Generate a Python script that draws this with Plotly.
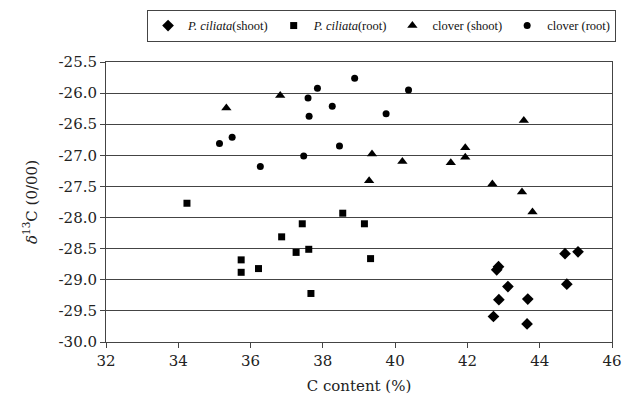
import plotly.graph_objects as go

# P. ciliata (shoot)
pc_shoot_x = [44.70, 45.06, 42.86, 42.81, 43.12, 44.75, 42.87, 43.67, 42.72, 43.65]
pc_shoot_y = [-28.58, -28.55, -28.79, -28.84, -29.11, -29.07, -29.32, -29.31, -29.59, -29.71]

# P. ciliata (root)
pc_root_x = [34.24, 38.55, 37.43, 36.86, 37.26, 37.61, 35.74, 35.74, 36.22, 37.67, 39.15, 39.32]
pc_root_y = [-27.77, -27.93, -28.10, -28.31, -28.56, -28.51, -28.68, -28.88, -28.82, -29.22, -28.10, -28.66]

# clover (shoot)
cl_shoot_x = [35.33, 36.82, 43.56, 39.36, 40.20, 41.54, 41.94, 41.94, 39.28, 42.69, 43.51, 43.80]
cl_shoot_y = [-26.24, -26.04, -26.44, -26.98, -27.10, -27.12, -26.88, -27.03, -27.41, -27.46, -27.59, -27.91]

# clover (root)
cl_root_x = [35.14, 35.49, 36.27, 37.47, 37.59, 37.85, 37.62, 38.26, 38.46, 38.88, 40.37, 39.75]
cl_root_y = [-26.81, -26.71, -27.18, -27.01, -26.08, -25.92, -26.37, -26.21, -26.85, -25.76, -25.95, -26.33]

x_ticks = [32, 34, 36, 38, 40, 42, 44, 46]
y_ticks = [-25.5, -26.0, -26.5, -27.0, -27.5, -28.0, -28.5, -29.0, -29.5, -30.0]

font_family = "DejaVu Serif"

fig = go.Figure()
series = [
    (pc_shoot_x, pc_shoot_y, "<i>P. ciliata</i>(shoot)", "diamond", 9),
    (pc_root_x, pc_root_y, "<i>P. ciliata</i>(root)", "square", 7),
    (cl_shoot_x, cl_shoot_y, "clover (shoot)", "triangle-up", 9),
    (cl_root_x, cl_root_y, "clover (root)", "circle", 7),
]
for xs, ys, name, sym, sz in series:
    fig.add_trace(go.Scatter(
        x=xs, y=ys, mode="markers", name=name,
        marker=dict(symbol=sym, size=sz, color="black"),
    ))

fig.update_layout(
    width=622, height=399,
    margin=dict(l=106, r=10, t=62, b=57, autoexpand=False),
    paper_bgcolor="white", plot_bgcolor="white",
    font=dict(family=font_family, size=15, color="#222"),
    showlegend=True,
    legend=dict(
        orientation="h", x=1.008, xanchor="right", y=1.186, yanchor="top",
        bordercolor="#444", borderwidth=1,
        font=dict(family="Liberation Serif", size=12.5, color="#111"),
        itemwidth=30, tracegroupgap=0,
    ),
    xaxis=dict(
        range=[32, 46], tickvals=x_ticks, ticktext=[str(v) for v in x_ticks],
        showgrid=False, zeroline=False, showline=True, linecolor="#444",
        linewidth=1, mirror=True, ticks="outside", ticklen=5, tickcolor="#444",
        automargin=False,
        title=dict(text="C content (%)", standoff=11, font=dict(size=15)),
    ),
    yaxis=dict(
        range=[-30.0, -25.5], tickvals=y_ticks,
        ticktext=[f"{v:.1f}" for v in y_ticks],
        showgrid=True, gridcolor="#444", gridwidth=1,
        zeroline=False, showline=True, linecolor="#444",
        linewidth=1, mirror=True, ticks="outside", ticklen=5, tickcolor="#444",
        automargin=False,
        title=dict(text="<i>δ</i><sup>13</sup>C (0/00)", standoff=17, font=dict(size=15)),
    ),
)

fig.write_html(
    "out.html",
    config={"displayModeBar": False},
    post_script="document.body.style.margin='0';document.body.style.overflow='hidden';",
)
